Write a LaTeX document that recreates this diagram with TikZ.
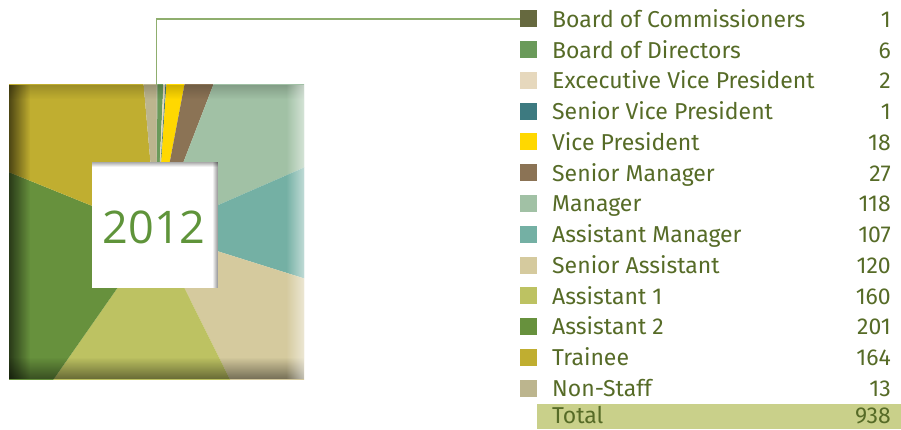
\documentclass[tikz,border=0pt]{standalone}
\usepackage{fontspec}
\setmainfont{Fira Sans}
\newfontfamily\yearfont{Open Sans}
\usetikzlibrary{fadings}
\definecolor{cBoC}{HTML}{66693F}
\definecolor{cBoD}{HTML}{6A9A5A}
\definecolor{cEVP}{HTML}{E6D8BD}
\definecolor{cSVP}{HTML}{3D7A80}
\definecolor{cVP}{HTML}{FFD800}
\definecolor{cSM}{HTML}{8B7355}
\definecolor{cMgr}{HTML}{A1C1A5}
\definecolor{cAM}{HTML}{74B0A4}
\definecolor{cSA}{HTML}{D5CA9E}
\definecolor{cAa}{HTML}{BDC262}
\definecolor{cAb}{HTML}{67913D}
\definecolor{cTr}{HTML}{C0AE30}
\definecolor{cNS}{HTML}{BCB58E}
\definecolor{cTot}{HTML}{C9D08A}
\definecolor{cTxt}{HTML}{566B27}
\definecolor{cYear}{HTML}{5F943A}
\definecolor{cLead}{HTML}{8FAE6E}
\tikzfading[name=fadeL, left color=transparent!0, right color=transparent!100]
\tikzfading[name=fadeR, left color=transparent!100, right color=transparent!0]
\tikzfading[name=fadeB, bottom color=transparent!0, top color=transparent!100]
\tikzfading[name=fadeT, top color=transparent!0, bottom color=transparent!100]
\begin{document}
\begin{tikzpicture}[x=1pt,y=1pt,
  legsq/.style={minimum size=17pt, inner sep=0pt, anchor=center},
  leglabel/.style={anchor=base west, inner sep=0pt, text=cTxt, font=\fontsize{23}{26}\selectfont},
  legval/.style={anchor=base east, inner sep=0pt, text=cTxt, font=\fontsize{23}{26}\selectfont},
  leader/.style={draw=cLead, line width=1.2pt}]
\useasboundingbox (0,0) rectangle (901,429);
\coordinate (C) at (156.5,197);
% pie square
\begin{scope}
\clip (9,50) rectangle (304,344);
\foreach \a/\b/\c in {0/0.38/cBoC, 0.38/2.69/cBoD, 2.69/3.45/cEVP, 3.45/3.84/cSVP,
  3.84/10.75/cVP, 10.75/21.11/cSM, 21.11/66.40/cMgr, 66.40/107.46/cAM,
  107.46/153.52/cSA, 153.52/214.93/cAa, 214.93/292.07/cAb, 292.07/355.01/cTr,
  355.01/360/cNS} {
  \pgfmathsetmacro{\m}{(\a+\b)/2}
  \fill[\c] (C) -- ({156.5+500*sin(\a)},{197+500*cos(\a)})
    -- ({156.5+500*sin(\m)},{197+500*cos(\m)})
    -- ({156.5+500*sin(\b)},{197+500*cos(\b)}) -- cycle;
}
% bevel shading
\fill[black, opacity=0.6, path fading=fadeL] (9,50) rectangle (30,344);
\fill[black, opacity=0.45, path fading=fadeB] (9,50) rectangle (304,72);
\fill[black, opacity=0.18, path fading=fadeT] (9,330) rectangle (304,344);
\fill[white, opacity=0.55, path fading=fadeR] (286,50) rectangle (304,344);
\end{scope}
\coordinate (lead) at (156.5,344);
% centre window
\node[fill=white, minimum size=126pt, inner sep=0pt] (win) at (155,204) {};
\fill[black, opacity=0.35, path fading=fadeT] (win.north west) rectangle ([yshift=-5pt]win.north east);
\fill[black, opacity=0.45, path fading=fadeR] ([xshift=-6pt]win.south east) rectangle (win.north east);
\node[text=cYear, inner sep=0pt, font=\yearfont\fontsize{45}{50}\selectfont] (year) at (154,202) {2012};
% legend
\foreach \i/\c/\t/\v in {0/cBoC/Board of Commissioners/1, 1/cBoD/Board of Directors/6,
  2/cEVP/Excecutive Vice President/2, 3/cSVP/Senior Vice President/1,
  4/cVP/Vice President/18, 5/cSM/Senior Manager/27, 6/cMgr/Manager/118,
  7/cAM/Assistant Manager/107, 8/cSA/Senior Assistant/120, 9/cAa/Assistant 1/160,
  10/cAb/Assistant 2/201, 11/cTr/Trainee/164, 12/cNS/Non-Staff/13} {
  \node[legsq, fill=\c] (sq\i) at (528.5,{410-30.75*\i}) {};
  \node[leglabel] (lab\i) at (552,{401.6-30.75*\i}) {\t};
  \node[legval] (val\i) at (891,{401.6-30.75*\i}) {\v};
}
\node[fill=cTot, anchor=south west, minimum width=364pt, minimum height=25pt, inner sep=0pt] (totbar) at (537,0) {};
\node[leglabel, text depth=0pt] (labtot) at (552,6) {Total};
\node[legval, text depth=0pt] (valtot) at (891,6) {938};
\draw[leader] (lead) |- (sq0.west);
\end{tikzpicture}
\end{document}
